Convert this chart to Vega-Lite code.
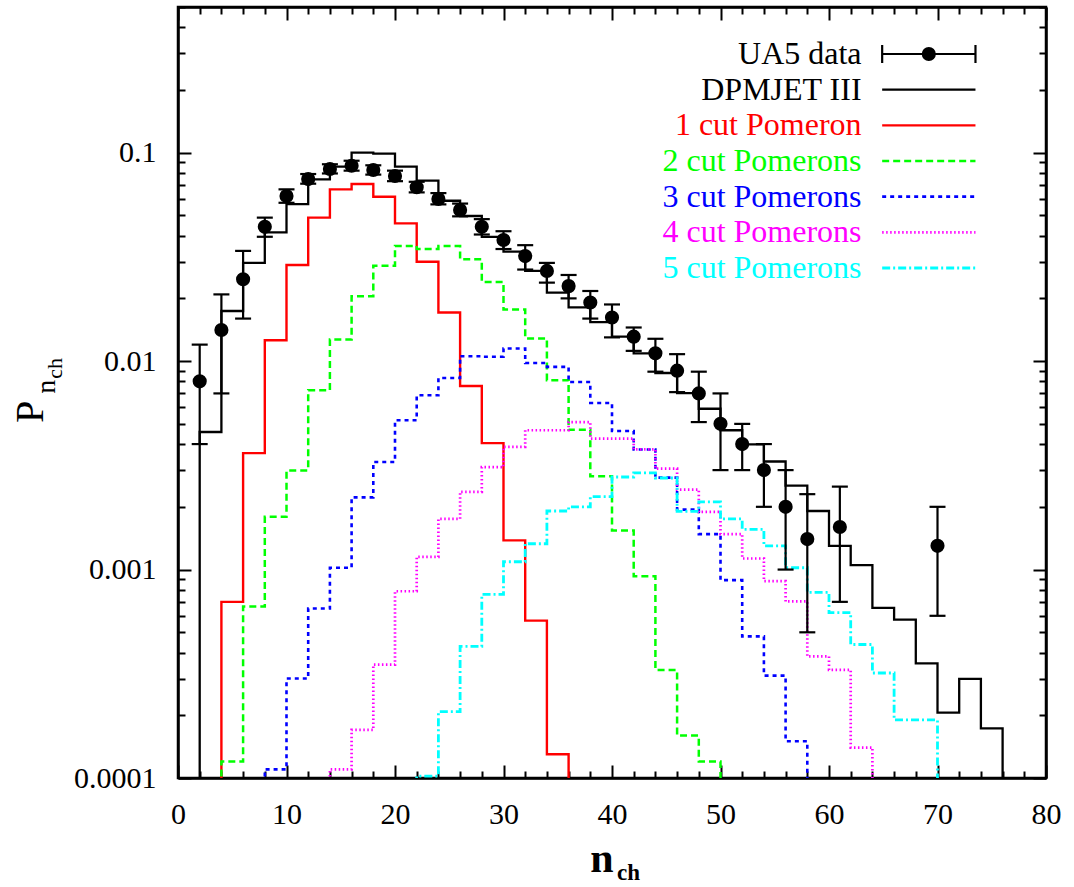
{
  "$schema": "https://vega.github.io/schema/vega-lite/v6.json",
  "width": 868,
  "height": 771,
  "autosize": "none",
  "padding": {"left": 178, "top": 7, "right": 28, "bottom": 109},
  "background": "white",
  "config": {
    "view": {"stroke": "black", "strokeWidth": 2.5},
    "font": "Liberation Serif",
    "axis": {"domainColor": "black", "domainWidth": 2.5, "tickColor": "black", "tickWidth": 2, "labelColor": "black", "labelFont": "Liberation Serif", "labelFontSize": 30, "grid": false, "labelOverlap": false, "labelFlush": false, "labelBound": false}
  },
  "datasets": {
    "hist": [
      {"series": "DPMJET III", "n": 0, "p": 0.000001},
      {"series": "DPMJET III", "n": 2, "p": 0.00457},
      {"series": "DPMJET III", "n": 4, "p": 0.0174},
      {"series": "DPMJET III", "n": 6, "p": 0.0296},
      {"series": "DPMJET III", "n": 8, "p": 0.0415},
      {"series": "DPMJET III", "n": 10, "p": 0.0567},
      {"series": "DPMJET III", "n": 12, "p": 0.0745},
      {"series": "DPMJET III", "n": 14, "p": 0.0857},
      {"series": "DPMJET III", "n": 16, "p": 0.1},
      {"series": "DPMJET III", "n": 18, "p": 0.099},
      {"series": "DPMJET III", "n": 20, "p": 0.0857},
      {"series": "DPMJET III", "n": 22, "p": 0.0734},
      {"series": "DPMJET III", "n": 24, "p": 0.0588},
      {"series": "DPMJET III", "n": 26, "p": 0.0497},
      {"series": "DPMJET III", "n": 28, "p": 0.0395},
      {"series": "DPMJET III", "n": 30, "p": 0.0335},
      {"series": "DPMJET III", "n": 32, "p": 0.0271},
      {"series": "DPMJET III", "n": 34, "p": 0.0213},
      {"series": "DPMJET III", "n": 36, "p": 0.0181},
      {"series": "DPMJET III", "n": 38, "p": 0.0154},
      {"series": "DPMJET III", "n": 40, "p": 0.0131},
      {"series": "DPMJET III", "n": 42, "p": 0.0109},
      {"series": "DPMJET III", "n": 44, "p": 0.00877},
      {"series": "DPMJET III", "n": 46, "p": 0.00703},
      {"series": "DPMJET III", "n": 48, "p": 0.00591},
      {"series": "DPMJET III", "n": 50, "p": 0.00466},
      {"series": "DPMJET III", "n": 52, "p": 0.00399},
      {"series": "DPMJET III", "n": 54, "p": 0.0033},
      {"series": "DPMJET III", "n": 56, "p": 0.00253},
      {"series": "DPMJET III", "n": 58, "p": 0.00191},
      {"series": "DPMJET III", "n": 60, "p": 0.0013},
      {"series": "DPMJET III", "n": 62, "p": 0.00105},
      {"series": "DPMJET III", "n": 64, "p": 0.000655},
      {"series": "DPMJET III", "n": 66, "p": 0.000575},
      {"series": "DPMJET III", "n": 68, "p": 0.000355},
      {"series": "DPMJET III", "n": 70, "p": 0.000206},
      {"series": "DPMJET III", "n": 72, "p": 0.000299},
      {"series": "DPMJET III", "n": 74, "p": 0.000173},
      {"series": "DPMJET III", "n": 76, "p": 0.000001},
      {"series": "1 cut Pomeron", "n": 2, "p": 0.000001},
      {"series": "1 cut Pomeron", "n": 4, "p": 0.0007},
      {"series": "1 cut Pomeron", "n": 6, "p": 0.00362},
      {"series": "1 cut Pomeron", "n": 8, "p": 0.0126},
      {"series": "1 cut Pomeron", "n": 10, "p": 0.0289},
      {"series": "1 cut Pomeron", "n": 12, "p": 0.0488},
      {"series": "1 cut Pomeron", "n": 14, "p": 0.0667},
      {"series": "1 cut Pomeron", "n": 16, "p": 0.0708},
      {"series": "1 cut Pomeron", "n": 18, "p": 0.0615},
      {"series": "1 cut Pomeron", "n": 20, "p": 0.0458},
      {"series": "1 cut Pomeron", "n": 22, "p": 0.03},
      {"series": "1 cut Pomeron", "n": 24, "p": 0.0171},
      {"series": "1 cut Pomeron", "n": 26, "p": 0.0076},
      {"series": "1 cut Pomeron", "n": 28, "p": 0.00404},
      {"series": "1 cut Pomeron", "n": 30, "p": 0.00138},
      {"series": "1 cut Pomeron", "n": 32, "p": 0.000569},
      {"series": "1 cut Pomeron", "n": 34, "p": 0.00013},
      {"series": "1 cut Pomeron", "n": 36, "p": 0.000001},
      {"series": "2 cut Pomerons", "n": 2, "p": 0.000001},
      {"series": "2 cut Pomerons", "n": 4, "p": 0.00012},
      {"series": "2 cut Pomerons", "n": 6, "p": 0.000665},
      {"series": "2 cut Pomerons", "n": 8, "p": 0.00179},
      {"series": "2 cut Pomerons", "n": 10, "p": 0.00299},
      {"series": "2 cut Pomerons", "n": 12, "p": 0.00724},
      {"series": "2 cut Pomerons", "n": 14, "p": 0.0127},
      {"series": "2 cut Pomerons", "n": 16, "p": 0.0205},
      {"series": "2 cut Pomerons", "n": 18, "p": 0.0287},
      {"series": "2 cut Pomerons", "n": 20, "p": 0.0357},
      {"series": "2 cut Pomerons", "n": 22, "p": 0.0345},
      {"series": "2 cut Pomerons", "n": 24, "p": 0.0357},
      {"series": "2 cut Pomerons", "n": 26, "p": 0.0308},
      {"series": "2 cut Pomerons", "n": 28, "p": 0.024},
      {"series": "2 cut Pomerons", "n": 30, "p": 0.0177},
      {"series": "2 cut Pomerons", "n": 32, "p": 0.01285},
      {"series": "2 cut Pomerons", "n": 34, "p": 0.0081},
      {"series": "2 cut Pomerons", "n": 36, "p": 0.00469},
      {"series": "2 cut Pomerons", "n": 38, "p": 0.0028},
      {"series": "2 cut Pomerons", "n": 40, "p": 0.00154},
      {"series": "2 cut Pomerons", "n": 42, "p": 0.00093},
      {"series": "2 cut Pomerons", "n": 44, "p": 0.00033},
      {"series": "2 cut Pomerons", "n": 46, "p": 0.00016},
      {"series": "2 cut Pomerons", "n": 48, "p": 0.00012},
      {"series": "2 cut Pomerons", "n": 50, "p": 0.000001},
      {"series": "3 cut Pomerons", "n": 6, "p": 0.000001},
      {"series": "3 cut Pomerons", "n": 8, "p": 0.00011},
      {"series": "3 cut Pomerons", "n": 10, "p": 0.0003},
      {"series": "3 cut Pomerons", "n": 12, "p": 0.00065},
      {"series": "3 cut Pomerons", "n": 14, "p": 0.00102},
      {"series": "3 cut Pomerons", "n": 16, "p": 0.00222},
      {"series": "3 cut Pomerons", "n": 18, "p": 0.00328},
      {"series": "3 cut Pomerons", "n": 20, "p": 0.0052},
      {"series": "3 cut Pomerons", "n": 22, "p": 0.00686},
      {"series": "3 cut Pomerons", "n": 24, "p": 0.0083},
      {"series": "3 cut Pomerons", "n": 26, "p": 0.01056},
      {"series": "3 cut Pomerons", "n": 28, "p": 0.0105},
      {"series": "3 cut Pomerons", "n": 30, "p": 0.0115},
      {"series": "3 cut Pomerons", "n": 32, "p": 0.0098},
      {"series": "3 cut Pomerons", "n": 34, "p": 0.00938},
      {"series": "3 cut Pomerons", "n": 36, "p": 0.00794},
      {"series": "3 cut Pomerons", "n": 38, "p": 0.0063},
      {"series": "3 cut Pomerons", "n": 40, "p": 0.00462},
      {"series": "3 cut Pomerons", "n": 42, "p": 0.00377},
      {"series": "3 cut Pomerons", "n": 44, "p": 0.00276},
      {"series": "3 cut Pomerons", "n": 46, "p": 0.00194},
      {"series": "3 cut Pomerons", "n": 48, "p": 0.00148},
      {"series": "3 cut Pomerons", "n": 50, "p": 0.00089},
      {"series": "3 cut Pomerons", "n": 52, "p": 0.000478},
      {"series": "3 cut Pomerons", "n": 54, "p": 0.00031},
      {"series": "3 cut Pomerons", "n": 56, "p": 0.00015},
      {"series": "3 cut Pomerons", "n": 58, "p": 0.000001},
      {"series": "4 cut Pomerons", "n": 12, "p": 0.000001},
      {"series": "4 cut Pomerons", "n": 14, "p": 0.00011},
      {"series": "4 cut Pomerons", "n": 16, "p": 0.00017},
      {"series": "4 cut Pomerons", "n": 18, "p": 0.00035},
      {"series": "4 cut Pomerons", "n": 20, "p": 0.000787},
      {"series": "4 cut Pomerons", "n": 22, "p": 0.00115},
      {"series": "4 cut Pomerons", "n": 24, "p": 0.00175},
      {"series": "4 cut Pomerons", "n": 26, "p": 0.00236},
      {"series": "4 cut Pomerons", "n": 28, "p": 0.0031},
      {"series": "4 cut Pomerons", "n": 30, "p": 0.00388},
      {"series": "4 cut Pomerons", "n": 32, "p": 0.00466},
      {"series": "4 cut Pomerons", "n": 34, "p": 0.00466},
      {"series": "4 cut Pomerons", "n": 36, "p": 0.0051},
      {"series": "4 cut Pomerons", "n": 38, "p": 0.00425},
      {"series": "4 cut Pomerons", "n": 40, "p": 0.00425},
      {"series": "4 cut Pomerons", "n": 42, "p": 0.00377},
      {"series": "4 cut Pomerons", "n": 44, "p": 0.00305},
      {"series": "4 cut Pomerons", "n": 46, "p": 0.00242},
      {"series": "4 cut Pomerons", "n": 48, "p": 0.00189},
      {"series": "4 cut Pomerons", "n": 50, "p": 0.00148},
      {"series": "4 cut Pomerons", "n": 52, "p": 0.00113},
      {"series": "4 cut Pomerons", "n": 54, "p": 0.00088},
      {"series": "4 cut Pomerons", "n": 56, "p": 0.000703},
      {"series": "4 cut Pomerons", "n": 58, "p": 0.000383},
      {"series": "4 cut Pomerons", "n": 60, "p": 0.00033},
      {"series": "4 cut Pomerons", "n": 62, "p": 0.00014},
      {"series": "4 cut Pomerons", "n": 64, "p": 0.000001},
      {"series": "5 cut Pomerons", "n": 20, "p": 0.000001},
      {"series": "5 cut Pomerons", "n": 22, "p": 0.000102},
      {"series": "5 cut Pomerons", "n": 24, "p": 0.000208},
      {"series": "5 cut Pomerons", "n": 26, "p": 0.000428},
      {"series": "5 cut Pomerons", "n": 28, "p": 0.00076},
      {"series": "5 cut Pomerons", "n": 30, "p": 0.00109},
      {"series": "5 cut Pomerons", "n": 32, "p": 0.00133},
      {"series": "5 cut Pomerons", "n": 34, "p": 0.00191},
      {"series": "5 cut Pomerons", "n": 36, "p": 0.002},
      {"series": "5 cut Pomerons", "n": 38, "p": 0.00224},
      {"series": "5 cut Pomerons", "n": 40, "p": 0.00278},
      {"series": "5 cut Pomerons", "n": 42, "p": 0.00291},
      {"series": "5 cut Pomerons", "n": 44, "p": 0.00275},
      {"series": "5 cut Pomerons", "n": 46, "p": 0.0019},
      {"series": "5 cut Pomerons", "n": 48, "p": 0.00211},
      {"series": "5 cut Pomerons", "n": 50, "p": 0.00175},
      {"series": "5 cut Pomerons", "n": 52, "p": 0.00156},
      {"series": "5 cut Pomerons", "n": 54, "p": 0.0013},
      {"series": "5 cut Pomerons", "n": 56, "p": 0.00102},
      {"series": "5 cut Pomerons", "n": 58, "p": 0.000778},
      {"series": "5 cut Pomerons", "n": 60, "p": 0.000622},
      {"series": "5 cut Pomerons", "n": 62, "p": 0.000437},
      {"series": "5 cut Pomerons", "n": 64, "p": 0.000319},
      {"series": "5 cut Pomerons", "n": 66, "p": 0.00019},
      {"series": "5 cut Pomerons", "n": 68, "p": 0.00019},
      {"series": "5 cut Pomerons", "n": 70, "p": 0.000001}
    ],
    "ua5": [
      {"n": 2, "p": 0.008, "lo": 0.004, "hi": 0.012},
      {"n": 4, "p": 0.0141, "lo": 0.007, "hi": 0.0209},
      {"n": 6, "p": 0.0247, "lo": 0.016, "hi": 0.0338},
      {"n": 8, "p": 0.0441, "lo": 0.0395, "hi": 0.0488},
      {"n": 10, "p": 0.0619, "lo": 0.0575, "hi": 0.0667},
      {"n": 12, "p": 0.0747, "lo": 0.071, "hi": 0.079},
      {"n": 14, "p": 0.0835, "lo": 0.0795, "hi": 0.088},
      {"n": 16, "p": 0.0866, "lo": 0.082, "hi": 0.0915},
      {"n": 18, "p": 0.0826, "lo": 0.0785, "hi": 0.087},
      {"n": 20, "p": 0.0773, "lo": 0.073, "hi": 0.082},
      {"n": 22, "p": 0.0683, "lo": 0.0645, "hi": 0.0725},
      {"n": 24, "p": 0.06, "lo": 0.0565, "hi": 0.064},
      {"n": 26, "p": 0.0531, "lo": 0.0495, "hi": 0.057},
      {"n": 28, "p": 0.0441, "lo": 0.0405, "hi": 0.048},
      {"n": 30, "p": 0.0381, "lo": 0.0345, "hi": 0.042},
      {"n": 32, "p": 0.0319, "lo": 0.0275, "hi": 0.036},
      {"n": 34, "p": 0.0271, "lo": 0.0238, "hi": 0.0296},
      {"n": 36, "p": 0.0229, "lo": 0.02, "hi": 0.0259},
      {"n": 38, "p": 0.0191, "lo": 0.016, "hi": 0.0217},
      {"n": 40, "p": 0.0162, "lo": 0.013, "hi": 0.0187},
      {"n": 42, "p": 0.0131, "lo": 0.0112, "hi": 0.0145},
      {"n": 44, "p": 0.0109, "lo": 0.0089, "hi": 0.0128},
      {"n": 46, "p": 0.009, "lo": 0.0071, "hi": 0.0108},
      {"n": 48, "p": 0.007, "lo": 0.0051, "hi": 0.0089},
      {"n": 50, "p": 0.005, "lo": 0.003, "hi": 0.007},
      {"n": 52, "p": 0.004, "lo": 0.003, "hi": 0.005},
      {"n": 54, "p": 0.003, "lo": 0.002, "hi": 0.004},
      {"n": 56, "p": 0.002, "lo": 0.001, "hi": 0.003},
      {"n": 58, "p": 0.0014, "lo": 0.0005, "hi": 0.0023},
      {"n": 61, "p": 0.0016, "lo": 0.0007, "hi": 0.0025},
      {"n": 70, "p": 0.0013, "lo": 0.0006, "hi": 0.002}
    ],
    "leg": [
      {"series": "UA5 data"},
      {"series": "DPMJET III"},
      {"series": "1 cut Pomeron"},
      {"series": "2 cut Pomerons"},
      {"series": "3 cut Pomerons"},
      {"series": "4 cut Pomerons"},
      {"series": "5 cut Pomerons"}
    ]
  },
  "layer": [
    {
      "layer": [
        {
          "data": {"name": "hist"},
          "mark": {"type": "line", "interpolate": "step-after", "clip": true},
          "encoding": {
            "x": {"field": "n", "type": "quantitative", "scale": {"domain": [0, 80], "nice": false, "zero": false},
              "axis": {"orient": "bottom", "title": null, "values": [0,2,4,6,8,10,12,14,16,18,20,22,24,26,28,30,32,34,36,38,40,42,44,46,48,50,52,54,56,58,60,62,64,66,68,70,72,74,76,78,80],
                "labelExpr": "datum.value % 10 === 0 ? datum.label : ''",
                "tickSize": {"condition": {"test": "datum.value % 10 === 0", "value": -13}, "value": -7},
                "labelPadding": 34}},
            "y": {"field": "p", "type": "quantitative", "scale": {"type": "log", "domain": [0.0001, 0.5], "nice": false},
              "axis": {"orient": "left", "title": null, "format": "~g",
                "values": [0.0001,0.0002,0.0003,0.0004,0.0005,0.0006,0.0007,0.0008,0.0009,0.001,0.002,0.003,0.004,0.005,0.006,0.007,0.008,0.009,0.01,0.02,0.03,0.04,0.05,0.06,0.07,0.08,0.09,0.1,0.2,0.3,0.4,0.5],
                "labelExpr": "abs(log(datum.value)/LN10 - round(log(datum.value)/LN10)) < 0.01 ? datum.label : ''",
                "tickSize": {"condition": {"test": "abs(log(datum.value)/LN10 - round(log(datum.value)/LN10)) < 0.01", "value": -13}, "value": -7},
                "labelPadding": 35}},
            "color": {"field": "series", "type": "nominal", "legend": null,
              "scale": {"domain": ["UA5 data","DPMJET III","1 cut Pomeron","2 cut Pomerons","3 cut Pomerons","4 cut Pomerons","5 cut Pomerons"],
                "range": ["#000000","#000000","#ff0000","#00ff00","#0000ff","#ff00ff","#00ffff"]}},
            "strokeDash": {"field": "series", "type": "nominal", "legend": null,
              "scale": {"domain": ["UA5 data","DPMJET III","1 cut Pomeron","2 cut Pomerons","3 cut Pomerons","4 cut Pomerons","5 cut Pomerons"],
                "range": [[1,0],[1,0],[1,0],[7,4],[4,4],[1.5,2.5],[8,3,2,3]]}},
            "strokeWidth": {"field": "series", "type": "nominal", "legend": null,
              "scale": {"domain": ["UA5 data","DPMJET III","1 cut Pomeron","2 cut Pomerons","3 cut Pomerons","4 cut Pomerons","5 cut Pomerons"],
                "range": [2.2, 2.8, 1.8, 1.6, 1.6, 1.8, 1.6]}}
          }
        },
        {
          "data": {"name": "ua5"},
          "mark": {"type": "rule", "color": "black", "strokeWidth": 2.2},
          "encoding": {
            "x": {"field": "n", "type": "quantitative", "axis": null},
            "y": {"field": "lo", "type": "quantitative", "axis": null},
            "y2": {"field": "hi"}
          }
        },
        {
          "data": {"name": "ua5"},
          "mark": {"type": "tick", "orient": "horizontal", "size": 16, "thickness": 2.2, "color": "black", "opacity": 1},
          "encoding": {
            "x": {"field": "n", "type": "quantitative", "axis": null},
            "y": {"field": "lo", "type": "quantitative", "axis": null}
          }
        },
        {
          "data": {"name": "ua5"},
          "mark": {"type": "tick", "orient": "horizontal", "size": 16, "thickness": 2.2, "color": "black", "opacity": 1},
          "encoding": {
            "x": {"field": "n", "type": "quantitative", "axis": null},
            "y": {"field": "hi", "type": "quantitative", "axis": null}
          }
        },
        {
          "data": {"name": "ua5"},
          "mark": {"type": "point", "filled": true, "size": 200, "color": "black", "opacity": 1, "strokeWidth": 0},
          "encoding": {
            "x": {"field": "n", "type": "quantitative",
              "axis": {"orient": "top", "title": null, "labels": false, "values": [0,2,4,6,8,10,12,14,16,18,20,22,24,26,28,30,32,34,36,38,40,42,44,46,48,50,52,54,56,58,60,62,64,66,68,70,72,74,76,78,80],
                "tickSize": {"condition": {"test": "datum.value % 10 === 0", "value": -13}, "value": -7}}},
            "y": {"field": "p", "type": "quantitative",
              "axis": {"orient": "right", "title": null, "labels": false,
                "values": [0.0001,0.0002,0.0003,0.0004,0.0005,0.0006,0.0007,0.0008,0.0009,0.001,0.002,0.003,0.004,0.005,0.006,0.007,0.008,0.009,0.01,0.02,0.03,0.04,0.05,0.06,0.07,0.08,0.09,0.1,0.2,0.3,0.4,0.5],
                "tickSize": {"condition": {"test": "abs(log(datum.value)/LN10 - round(log(datum.value)/LN10)) < 0.01", "value": -13}, "value": -7}}}
          }
        },
        {
          "data": {"values": [{}]},
          "mark": {"type": "text", "text": "n", "font": "Liberation Serif", "fontSize": 42, "fontWeight": "bold", "align": "center", "baseline": "alphabetic", "color": "black"},
          "encoding": {"x": {"datum": 39.08, "axis": null}, "y": {"datum": 0.0000355, "axis": null}}
        },
        {
          "data": {"values": [{}]},
          "mark": {"type": "text", "text": "ch", "font": "Liberation Serif", "fontSize": 23, "fontWeight": "bold", "align": "left", "baseline": "alphabetic", "color": "black"},
          "encoding": {"x": {"datum": 40.46, "axis": null}, "y": {"datum": 0.0000325, "axis": null}}
        },
        {
          "data": {"values": [{}]},
          "mark": {"type": "text", "text": "P", "font": "Liberation Serif", "fontSize": 40, "angle": 270, "align": "center", "baseline": "alphabetic", "color": "black"},
          "encoding": {"x": {"datum": -12.44, "axis": null}, "y": {"datum": 0.00571, "axis": null}}
        },
        {
          "data": {"values": [{}]},
          "mark": {"type": "text", "text": "n", "font": "Liberation Serif", "fontSize": 28, "angle": 270, "align": "center", "baseline": "alphabetic", "color": "black"},
          "encoding": {"x": {"datum": -11.34, "axis": null}, "y": {"datum": 0.00753, "axis": null}}
        },
        {
          "data": {"values": [{}]},
          "mark": {"type": "text", "text": "ch", "font": "Liberation Serif", "fontSize": 22, "angle": 270, "align": "center", "baseline": "alphabetic", "color": "black"},
          "encoding": {"x": {"datum": -10.69, "axis": null}, "y": {"datum": 0.00924, "axis": null}}
        }
      ],
      "resolve": {"axis": {"x": "independent", "y": "independent"}}
    },
    {
      "data": {"name": "leg"},
      "encoding": {
        "y": {"field": "series", "type": "nominal", "axis": null,
          "scale": {"type": "point", "domain": ["UA5 data","DPMJET III","1 cut Pomeron","2 cut Pomerons","3 cut Pomerons","4 cut Pomerons","5 cut Pomerons"], "range": [47, 261], "padding": 0}}
      },
      "layer": [
        {
          "mark": {"type": "text", "align": "right", "baseline": "middle", "font": "Liberation Serif", "fontSize": 32},
          "encoding": {
            "x": {"datum": 63.0, "axis": null},
            "text": {"field": "series"},
            "color": {"field": "series", "type": "nominal", "legend": null}
          }
        },
        {
          "mark": {"type": "rule"},
          "encoding": {
            "x": {"datum": 64.9, "axis": null},
            "x2": {"datum": 73.5},
            "color": {"field": "series", "type": "nominal", "legend": null},
            "strokeDash": {"field": "series", "type": "nominal", "legend": null},
            "strokeWidth": {"field": "series", "type": "nominal", "legend": null}
          }
        },
        {
          "transform": [{"filter": "datum.series === 'UA5 data'"}],
          "mark": {"type": "tick", "orient": "vertical", "size": 18, "thickness": 2.2, "color": "black", "opacity": 1},
          "encoding": {"x": {"datum": 64.9, "axis": null}}
        },
        {
          "transform": [{"filter": "datum.series === 'UA5 data'"}],
          "mark": {"type": "tick", "orient": "vertical", "size": 18, "thickness": 2.2, "color": "black", "opacity": 1},
          "encoding": {"x": {"datum": 73.5, "axis": null}}
        },
        {
          "transform": [{"filter": "datum.series === 'UA5 data'"}],
          "mark": {"type": "point", "filled": true, "size": 200, "color": "black", "opacity": 1, "strokeWidth": 0},
          "encoding": {"x": {"datum": 69.2, "axis": null}}
        }
      ]
    }
  ],
  "resolve": {"scale": {"y": "independent"}, "axis": {"x": "independent", "y": "independent"}}
}
